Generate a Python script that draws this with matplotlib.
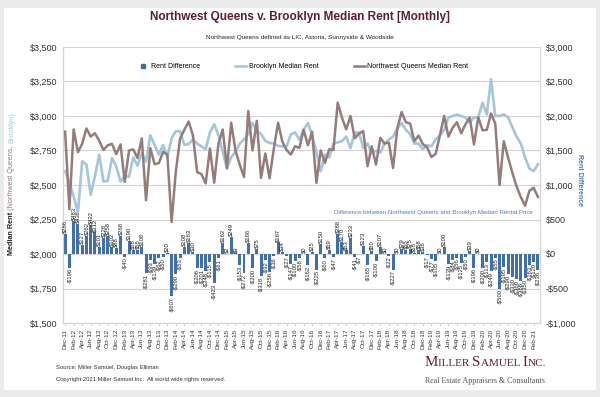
import matplotlib
matplotlib.use('Agg')
import matplotlib.pyplot as plt
from matplotlib.lines import Line2D
from matplotlib.patches import Rectangle
import numpy as np

plt.rcParams['font.family'] = ['Liberation Sans', 'DejaVu Sans']

# monthly categories Dec-11 .. Mar-21
months = ['Dec-11', 'Jan-12', 'Feb-12', 'Mar-12', 'Apr-12', 'May-12', 'Jun-12', 'Jul-12', 'Aug-12', 'Sep-12', 'Oct-12', 'Nov-12',
          'Dec-12', 'Jan-13', 'Feb-13', 'Mar-13', 'Apr-13', 'May-13', 'Jun-13', 'Jul-13', 'Aug-13', 'Sep-13', 'Oct-13', 'Nov-13',
          'Dec-13', 'Jan-14', 'Feb-14', 'Mar-14', 'Apr-14', 'May-14', 'Jun-14', 'Jul-14', 'Aug-14', 'Sep-14', 'Oct-14', 'Nov-14',
          'Dec-14', 'Jan-15', 'Feb-15', 'Mar-15', 'Apr-15', 'May-15', 'Jun-15', 'Jul-15', 'Aug-15', 'Sep-15', 'Oct-15', 'Nov-15',
          'Dec-15', 'Jan-16', 'Feb-16', 'Mar-16', 'Apr-16', 'May-16', 'Jun-16', 'Jul-16', 'Aug-16', 'Sep-16', 'Oct-16', 'Nov-16',
          'Dec-16', 'Jan-17', 'Feb-17', 'Mar-17', 'Apr-17', 'May-17', 'Jun-17', 'Jul-17', 'Aug-17', 'Sep-17', 'Oct-17', 'Nov-17',
          'Dec-17', 'Jan-18', 'Feb-18', 'Mar-18', 'Apr-18', 'May-18', 'Jun-18', 'Jul-18', 'Aug-18', 'Sep-18', 'Oct-18', 'Nov-18',
          'Dec-18', 'Jan-19', 'Feb-19', 'Mar-19', 'Apr-19', 'May-19', 'Jun-19', 'Jul-19', 'Aug-19', 'Sep-19', 'Oct-19', 'Nov-19',
          'Dec-19', 'Jan-20', 'Feb-20', 'Mar-20', 'Apr-20', 'May-20', 'Jun-20', 'Jul-20', 'Aug-20', 'Sep-20', 'Oct-20', 'Nov-20',
          'Dec-20', 'Jan-21', 'Feb-21', 'Mar-21']

brooklyn = [2600, 2520, 2420, 2300, 2672, 2648, 2429, 2563, 2720, 2526, 2530, 2696,
            2636, 2526, 2563, 2560, 2700, 2640, 2730, 2670, 2860, 2790, 2720, 2790,
            2700, 2840, 2890, 2890, 2792, 2797, 2830, 2800, 2780, 2760, 2880, 2940,
            2860, 2740, 2620, 2702, 2740, 2800, 2830, 2870, 2950, 2890, 2870, 2820,
            2805, 2800, 2784, 2780, 2780, 2868, 2881, 2827, 2900, 2950, 2860, 2740,
            2600, 2720, 2700, 2800, 2809, 2818, 2850, 2767, 2880, 2880, 2768, 2801,
            2730, 2748, 2735, 2800, 2830, 2850, 2910, 2950, 2900, 2870, 2800, 2800,
            2760, 2790, 2780, 2830, 2860, 2900, 2990, 3000, 3010, 3000, 2990, 2950,
            2990, 2990, 3097, 3012, 3267, 3000, 3000, 3012, 2990, 2920, 2850, 2800,
            2700, 2620, 2600, 2650]

queens = [2886, 2324, 2903, 2738, 2799, 2910, 2851, 2875, 2821, 2754, 2788, 2798,
          2724, 2794, 2523, 2750, 2758, 2695, 2838, 2389, 2767, 2651, 2658, 2740,
          2720, 2233, 2600, 2837, 2900, 2960, 2860, 2594, 2579, 2512, 2765, 2517,
          2799, 2902, 2622, 2951, 2749, 2647, 2558, 3036, 2750, 2965, 2552, 2728,
          2549, 2764, 2951, 2814, 2753, 2721, 2781, 2769, 2900, 2788, 2885, 2515,
          2750, 2660, 2759, 2753, 3097, 2988, 2903, 3000, 2839, 2873, 2891, 2636,
          2780, 2648, 2842, 2800, 2808, 2623, 2910, 3029, 2955, 2945, 2818, 2858,
          2796, 2773, 2703, 2725, 2860, 3000, 2851, 2916, 2954, 2875, 2940, 2989,
          2794, 2990, 2897, 2899, 3018, 2945, 2500, 2817, 2700, 2590, 2490, 2412,
          2350, 2457, 2480, 2414]

difference = [286, -196, 483, 438, 127, 262, 422, 312, 101, 228, 258, 102,
              88, 268, -40, 190, 58, 55, 108, -281, -93, -139, -62, -50,
              20, -607, -290, -53, 108, 163, 30, -206, -201, -248, -115, -423,
              -61, 162, 2, 249, 9, -153, -272, 166, -200, 75, -318, -92,
              -256, -36, 167, 34, -27, -147, -100, -58, 0, -162, 25, -225,
              150, -60, 59, -47, 288, 170, 53, 233, -41, -7, 123, -165,
              50, -100, 107, 0, -22, -227, 0, 79, 55, 75, 18, 58,
              36, -17, -77, -105, 0, 100, -139, -84, -56, -125, -50, 39,
              -196, 0, -200, -113, -249, -55, -500, -195, -290, -330, -360, -388,
              -350, -163, -120, -236]

c_bar = '#3f70aa'
c_bk = '#a3c6da'
c_q = '#957c7c'
c_title = '#5b1f2f'

fig = plt.figure(figsize=(6, 3.97), dpi=100, facecolor='#ebebeb')
fig.patches.append(Rectangle((4 / 600, 7 / 397), 592 / 600, 382 / 397, transform=fig.transFigure,
                             facecolor='white', edgecolor='none', zorder=-10))

ax = fig.add_axes([63 / 600, 1 - 323 / 397, 477 / 600, 276 / 397])
ax.set_facecolor('none')
ax2 = ax.twinx()

x = np.arange(len(months))

ax.set_ylim(1500, 3500)
ax.set_yticks(np.arange(1500, 3501, 250))
ax.set_yticklabels([f'${v:,}' for v in range(1500, 3501, 250)])
ax.grid(axis='y', color='#d4d4d4', lw=0.8)
ax.set_axisbelow(True)
ax.set_xlim(-0.5, len(months) - 0.5)

ax2.set_ylim(-1000, 3000)
ax2.set_yticks(np.arange(-1000, 3001, 500))
ax2.set_yticklabels([(f'-${-v:,}' if v < 0 else f'${v:,}') for v in range(-1000, 3001, 500)])

ax2.bar(x, difference, width=0.7, color=c_bar, zorder=2)
for xi, v in zip(x, difference):
    lab = f'-${-v}' if v < 0 else f'${v}'
    if v >= 0:
        ax2.text(xi, v + 12, lab, rotation=90, ha='center', va='bottom', fontsize=4.2, color='#222222')
    else:
        ax2.text(xi, v - 12, lab, rotation=90, ha='center', va='top', fontsize=4.2, color='#222222')

ax2.plot(x, brooklyn, color=c_bk, lw=1.9, zorder=3, transform=ax.transData)
ax2.plot(x, queens, color=c_q, lw=1.8, zorder=4, transform=ax.transData)

for a in (ax, ax2):
    a.spines['top'].set_visible(False)
    a.spines['left'].set_color('#d4d4d4')
    a.spines['right'].set_color('#d4d4d4')
    a.spines['bottom'].set_color('#d4d4d4')
    a.tick_params(axis='y', length=0, labelsize=6.5, pad=4, colors='#333333')

ax.set_xticks(x[::2])
ax.set_xticklabels(months[::2], rotation=90, fontsize=4.6, color='#333333')
ax.tick_params(axis='x', length=2, color='#d4d4d4', pad=2)

# title block
fig.text(0.5, 1 - 17 / 397, 'Northwest Queens v. Brooklyn Median Rent [Monthly]', ha='center', va='center',
         fontsize=8.5, fontweight='bold', color=c_title)
fig.text(0.5, 1 - 37 / 397, 'Northwest Queens defined as LIC, Astoria, Sunnyside & Woodside', ha='center',
         va='center', fontsize=4.6, color='#222222')

handles = [Line2D([], [], marker='s', ls='none', color=c_bar, markersize=3),
           Line2D([], [], color=c_bk, lw=1.8),
           Line2D([], [], color=c_q, lw=1.8)]
fig.legend(handles, ['Rent Difference', 'Brooklyn Median Rent', 'Northwest Queens Median Rent'],
           loc='center', bbox_to_anchor=(0.505, 1 - 67 / 397), ncol=3, frameon=False, fontsize=5,
           handlelength=1.6, columnspacing=5, handletextpad=0.4)

# axis titles
t1 = fig.text(12 / 600, 1 - 255 / 397, 'Median Rent ', rotation=90, ha='center', va='bottom',
              fontsize=5.2, fontweight='bold', color='#222222')
t2 = fig.text(0, 0, '(Northwest Queens, ', rotation=90, ha='center', va='bottom', fontsize=5.2, color=c_q)
t3 = fig.text(0, 0, 'Brooklyn)', rotation=90, ha='center', va='bottom', fontsize=5.2, color=c_bk)
fig.canvas.draw()
r = fig.canvas.get_renderer()
b1 = t1.get_window_extent(r)
t2.set_position((12 / 600, b1.y1 / fig.bbox.height))
b2 = t2.get_window_extent(r)
t3.set_position((12 / 600, b2.y1 / fig.bbox.height))

fig.text(579 / 600, 1 - 180 / 397, 'Rent Difference', rotation=-90, ha='center', va='center',
         fontsize=5, fontweight='bold', color='#4a7ebb')

ax.text(0.985, 0.4, 'Difference between Northwest Queens and Brooklyn Median Rental Price',
        transform=ax.transAxes, ha='right', va='center', fontsize=4.4, color='#4a7ebb')

# footer
fig.text(56 / 600, 1 - 368 / 397, 'Source: Miller Samuel, Douglas Elliman', fontsize=4.2, va='center', color='#333333')
fig.text(56 / 600, 1 - 379 / 397, 'Copyright 2021 Miller Samuel Inc.  All world wide rights reserved.', fontsize=4.2,
         va='center', color='#333333')

serif = ['Liberation Serif', 'DejaVu Serif']
pieces = [('M', 10.8), ('ILLER ', 8), ('S', 10.8), ('AMUEL ', 8), ('I', 10.8), ('NC.', 8)]
xpos = 425
ybase = 1 - 366 / 397
for txt, fs in pieces:
    t = fig.text(xpos / 600, ybase, txt, fontsize=fs, family=serif, color=c_title, va='baseline', ha='left')
    xpos += t.get_window_extent(r).width
fig.text(425 / 600, 1 - 381 / 397, 'Real Estate Appraisers & Consultants', fontsize=5.7, family=serif,
         color='#555555', va='center', ha='left')

fig.savefig('out.png', dpi=100, facecolor=fig.get_facecolor())
